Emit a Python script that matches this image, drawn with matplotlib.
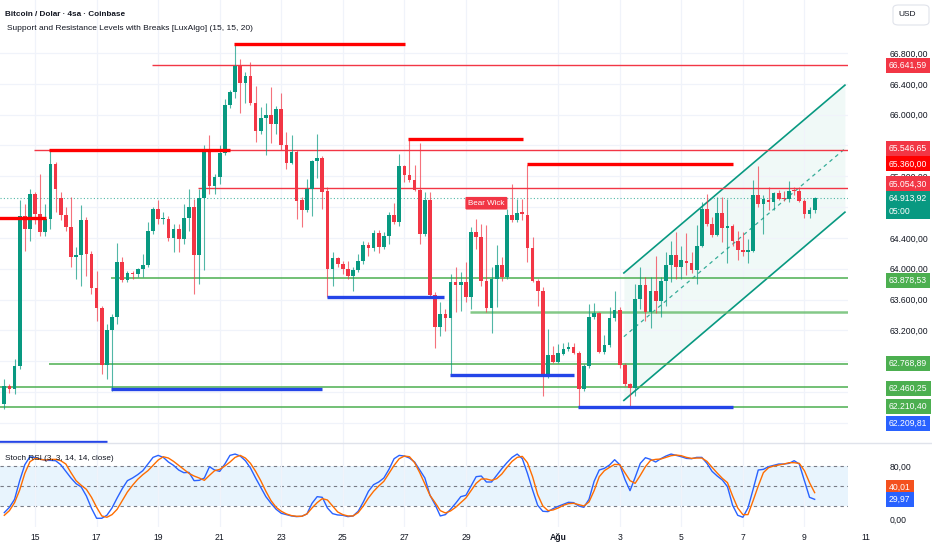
import numpy as np
import matplotlib
matplotlib.use("Agg")
import matplotlib.pyplot as plt
from matplotlib.patches import FancyBboxPatch
from matplotlib.transforms import blended_transform_factory
from matplotlib.ticker import FuncFormatter

plt.rcParams['font.family'] = ['Liberation Sans', 'DejaVu Sans']

# 4h candles, index 0 = 14 Jul 00:00
opens = [62239, 62477, 62434, 62738, 64678, 64518, 64973, 64713, 64473, 64648,
         65355, 64916, 64691, 64538, 64148, 64179, 64635, 64192, 63744, 63484,
         62747, 63206, 63376, 64092, 63854, 63945, 63926, 63992, 64053, 64486,
         64778, 64643, 64648, 64404, 64518, 64387, 64661, 64799, 64183, 64921,
         65528, 65072, 65189, 65502, 66119, 66296, 66631, 66413, 66500, 66145,
         65784, 65950, 65993, 65876, 66067, 65611, 65377, 65511, 64886, 64756,
         65033, 65394, 65442, 65003, 63997, 64140, 64062, 63997, 63909, 63988,
         64096, 64309, 64270, 64469, 64287, 64421, 64691, 64613, 65329, 65211,
         65146, 65016, 64452, 64895, 63662, 63245, 63411, 63359, 63831, 63792,
         63822, 63627, 64473, 64408, 63845, 63489, 63866, 64053, 63887, 64691,
         64635, 64734, 64700, 64270, 63845, 63705, 62598, 62881, 62794, 62898,
         62955, 62985, 62911, 62442, 62738, 63367, 63419, 62924, 63011, 63359,
         63467, 62747, 62500, 62447, 63606, 63792, 63432, 63705, 63584, 63835,
         64049, 64183, 64018, 64105, 64075, 63988, 64300, 64769, 64583, 64443,
         64726, 64531, 64551, 64356, 64244, 64213, 64235, 64960, 64843, 64895,
         64864, 64981, 64916, 64899, 65025, 65007, 64877, 64713, 64756]
highs = [62565, 62500, 62825, 64886, 64843, 65038, 64994, 65225, 64843, 65537,
         65385, 64994, 64799, 64929, 64278, 64821, 64669, 64235, 63975, 63519,
         63281, 63411, 64330, 64148, 63975, 63975, 64010, 64192, 64613, 64799,
         64895, 64734, 64678, 64583, 64583, 64834, 65038, 64908, 65038, 65602,
         65741, 65234, 65602, 66197, 66318, 66917, 66718, 66556, 66687, 66370,
         66101, 66145, 66353, 66110, 66275, 65775, 65741, 65537, 64929, 65159,
         65407, 65754, 65459, 65059, 64213, 64148, 64105, 64105, 64018, 64192,
         64365, 64343, 64505, 64505, 64473, 64734, 64851, 65494, 65342, 65689,
         65342, 65632, 64994, 64994, 63692, 63562, 63476, 63932, 64018, 63952,
         64083, 64538, 64648, 64583, 64574, 64027, 64313, 64148, 64778, 65103,
         64908, 64908, 65342, 64408, 63866, 63757, 63216, 62998, 63020, 63041,
         63054, 63041, 62933, 62760, 63541, 63549, 63432, 63141, 63497, 63705,
         63497, 62781, 62520, 63801, 64018, 63896, 63887, 64170, 63896, 64213,
         64356, 64473, 64300, 64465, 64213, 64574, 64864, 64973, 64669, 64929,
         64929, 64908, 64583, 64495, 64473, 64387, 65146, 65329, 64960, 65059,
         64994, 65016, 65007, 65137, 65059, 65059, 64908, 64799, 64929]
lows = [62174, 62390, 62369, 62695, 64235, 64365, 64583, 64430, 64430, 64518,
        64734, 64626, 64495, 64018, 63866, 63779, 63909, 63671, 63324, 62630,
        62565, 62412, 63281, 63822, 63822, 63866, 63887, 63887, 64018, 64452,
        64583, 64583, 64365, 64213, 64213, 64322, 64495, 63671, 63801, 63984,
        64973, 64973, 65103, 65472, 66080, 66210, 66015, 66145, 66123, 65645,
        65754, 65472, 65632, 65745, 65537, 65299, 65364, 64648, 64538, 64734,
        64682, 65176, 64778, 63627, 63779, 64018, 63932, 63866, 63714, 63952,
        64062, 64170, 64235, 64200, 64257, 64322, 64583, 64560, 65124, 65124,
        65003, 64322, 64430, 63627, 62976, 63128, 63193, 62617, 63432, 63454,
        63562, 63476, 64257, 63779, 63432, 63171, 63497, 63845, 63866, 64603,
        64603, 64635, 64083, 63822, 63519, 62347, 62585, 62781, 62781, 62881,
        62933, 62898, 62195, 62412, 62716, 63346, 62911, 62898, 62985, 63324,
        62708, 62477, 62195, 62347, 63476, 63324, 63236, 63419, 63367, 63519,
        63822, 63866, 63866, 63922, 63940, 63801, 64278, 64560, 64408, 64430,
        64343, 64070, 64300, 64114, 64170, 64075, 64213, 64799, 64452, 64756,
        64765, 64886, 64877, 64864, 64951, 64864, 64661, 64661, 64721]
closes = [62477, 62434, 62738, 64678, 64518, 64973, 64713, 64473, 64648, 65355,
          65038, 64691, 64538, 64148, 64179, 64635, 64192, 63744, 63484, 62747,
          63206, 63376, 64092, 63854, 63945, 63926, 63992, 64053, 64486, 64778,
          64648, 64656, 64404, 64518, 64387, 64661, 64799, 64183, 64921, 65528,
          65072, 65189, 65502, 66119, 66296, 66631, 66413, 66500, 66145, 65784,
          65950, 65993, 65876, 66067, 65611, 65377, 65511, 64877, 64756, 65033,
          65394, 65437, 64994, 63997, 64140, 64062, 63997, 63909, 63988, 64096,
          64309, 64270, 64469, 64287, 64421, 64691, 64613, 65329, 65211, 65146,
          65016, 64452, 64895, 63662, 63245, 63411, 63359, 63831, 63792, 63822,
          63627, 64473, 64408, 63835, 63489, 63866, 64053, 63887, 64691, 64635,
          64721, 64704, 64270, 63835, 63705, 62598, 62881, 62794, 62911, 62955,
          62985, 62911, 62442, 62738, 63367, 63419, 62924, 63011, 63359, 63467,
          62747, 62500, 62447, 63606, 63792, 63432, 63705, 63584, 63835, 64049,
          64183, 64018, 64114, 64075, 63988, 64300, 64778, 64583, 64443, 64726,
          64531, 64551, 64356, 64244, 64213, 64244, 64960, 64843, 64899, 64864,
          64981, 64908, 64899, 65007, 65007, 64877, 64713, 64756, 64913.92]

stoch_k = [10, 18, 30, 58, 82, 94, 92.5, 90.5, 88.5, 88.5,
           88, 82, 72, 62, 53.5, 48.5, 35, 16.5, 1.5, 1.5,
           6, 17, 32, 46, 58, 62, 67, 73, 83, 93,
           96, 93, 86, 81, 74, 70, 70.5, 58, 58.5, 62,
           79, 74, 72, 83, 96, 98, 95, 88, 77, 62,
           48, 34, 24, 15, 9, 7, 5, 4, 4.5, 8,
           24, 34, 33, 17, 8.5, 6.5, 6, 4, 5, 12,
           26, 42, 52, 56, 62, 75, 91, 96, 95, 92,
           86, 74, 62, 36, 22, 5, 7, 15, 24, 34,
           36, 50, 64, 65, 56, 56, 66, 76, 85, 93,
           98, 91, 69, 44, 21, 12, 11.5, 16, 19.5, 22.5,
           25.5, 25, 20, 18, 30, 57, 74, 76.5, 81.5, 89.5,
           82, 60, 43, 63, 84, 92.5, 90, 86, 91, 95,
           98, 96, 94, 91.5, 91, 93, 93, 84, 72, 65,
           59, 49, 21, 6, 3, 17, 45, 74, 75, 79,
           81, 83, 83, 84, 88, 83, 58, 33, 29.97]
stoch_d = [6, 13, 25, 44, 69, 86.5, 91.5, 90, 89, 90,
           90, 88, 83, 70, 58, 51, 45, 33, 18, 5,
           3, 7, 15, 28, 41, 51, 60, 67, 73, 81,
           89, 94, 92, 87, 81, 75, 69, 65, 62, 58.5,
           66, 73, 75, 80, 86, 93, 96, 92, 84, 72,
           58, 42, 28, 18, 12, 8, 5.5, 4.5, 4.5, 8,
           17, 25, 31, 29, 20, 11, 7, 5, 5, 10,
           20, 32, 42, 50, 57, 69, 81, 91, 95, 94,
           85, 70, 53, 36, 25, 13, 9.5, 12.5, 18, 25,
           32, 43, 54, 60.5, 60.5, 58.5, 61, 68, 78, 87,
           93, 94.5, 85, 64, 37, 20, 13, 14, 17, 21,
           23.5, 24, 22, 20, 26, 43, 64, 73, 78, 82.5,
           82, 70, 58, 54, 66, 79, 88.5, 90, 90.5, 93,
           95.5, 96.5, 95.5, 93, 91.5, 92, 92, 87, 78, 69.5,
           61.5, 55, 35, 17, 7, 7, 28, 50, 70, 77.5,
           80, 81.5, 83, 85, 85, 84, 73, 55, 40.01]

# user horizontal levels (price, first candle index)
level_prices = [66641.59, 65546.65, 65054.30, 63878.53, 62768.89, 62460.25, 62210.40, 63432]
level_start = [28.8, 5.8, 37.8, 20.8, 8.7, -1, -1, 90.8]
level_kind = ['r', 'r', 'r', 'g', 'g', 'g', 'g', 'g2']

# LuxAlgo pivot segments
res_price = [64660, 65546.65, 66917, 65689, 65360.00]
res_start = [-1, 8.7, 44.8, 78.7, 101.9]
res_end = [8.1, 44.0, 78.1, 101.1, 142.0]
sup_price = [61748, 62440, 63627, 62617, 62209.81]
sup_start = [-1, 20.8, 62.9, 86.9, 111.8]
sup_end = [20.0, 62.0, 85.7, 111.0, 142.0]

# ascending channel
chan_x = [120.8, 163.9]
chan_upper = [63945, 66383]
chan_lower = [62291, 64734]

time_ticks = [6, 18, 30, 42, 54, 66, 78, 90, 108, 120, 132, 144, 156, 168]
time_labels = ['15', '17', '19', '21', '23', '25', '27', '29', 'Ağu', '3', '5', '7', '9', '11']
# price scale values hidden behind the coloured labels
hidden_ticks = [64800, 62800, 62400, 62000]

GREEN = '#089981'
RED = '#f23645'
TEXT = '#131722'
GRID = '#f0f3fa'
FS = 6.2


def tr(v):
    s = f"{v:,.2f}"
    return s.replace(',', 'X').replace('.', ',').replace('X', '.')


fig = plt.figure(figsize=(9.32, 5.5), dpi=100)
ax = fig.add_axes([0, 107 / 550, 848 / 932, 443 / 550])
ax2 = fig.add_axes([0, 23 / 550, 848 / 932, 84 / 550])

idx = np.arange(len(opens))
o = np.array(opens, float)
h = np.array(highs, float)
l = np.array(lows, float)
c = np.array(closes, float)
up = c >= o
col = np.where(up, GREEN, RED)

for a in (ax, ax2):
    a.set_xlim(-0.84, 164.5)
    for s in a.spines.values():
        s.set_visible(False)
    a.set_xticks(time_ticks[:-1])
    a.set_xticklabels([])
    a.tick_params(axis='x', length=0)
    a.grid(axis='x', color=GRID, lw=0.9, zorder=0)

ax.set_ylim(61738, 67488)
ax.set_yticks(np.arange(62000, 66801, 400))
ax.grid(axis='y', color=GRID, lw=0.9, zorder=0)
ax.yaxis.set_major_formatter(FuncFormatter(
    lambda v, p: '' if int(round(v)) in hidden_ticks else tr(v)))
ax2.yaxis.set_major_formatter(FuncFormatter(lambda v, p: tr(v)))
for a in (ax, ax2):
    a.tick_params(axis='y', left=False, labelleft=False, right=False, labelright=True,
                  length=0, pad=30, labelsize=FS, labelcolor=TEXT)

# channel
ax.fill_between(chan_x, chan_lower, chan_upper, color=GREEN, alpha=0.06, lw=0, zorder=1)
ax.plot(chan_x, chan_upper, color=GREEN, lw=1.2, zorder=2)
ax.plot(chan_x, chan_lower, color=GREEN, lw=1.2, zorder=2)
ax.plot(chan_x, [(a + b) / 2 for a, b in zip(chan_upper, chan_lower)], color=GREEN,
        lw=0.9, ls=(0, (3, 3)), alpha=0.8, zorder=2)

# horizontal levels
for p, s, k in zip(level_prices, level_start, level_kind):
    if k == 'r':
        ax.hlines(p, s, 165, color=RED, lw=1.0, zorder=2)
    elif k == 'g':
        ax.hlines(p, s, 165, color='#4caf50', lw=1.1, zorder=2)
    else:
        ax.hlines(p, s, 165, color='#66bb6a', lw=1.8, alpha=0.8, zorder=2)

ax.axhline(closes[-1], color=GREEN, lw=0.8, ls=(0, (1, 2)), alpha=0.7, zorder=2)

# candles
ax.vlines(idx, l, h, color=col, lw=0.8, alpha=0.7, zorder=3)
ax.bar(idx, np.maximum(np.abs(c - o), 6), bottom=np.minimum(o, c), width=0.72,
       color=col, lw=0, zorder=4)

for p, s, e in zip(res_price, res_start, res_end):
    ax.hlines(p, s, e, color='#ff0000', lw=2.4, zorder=5)
for p, s, e in zip(sup_price, sup_start, sup_end):
    ax.hlines(p, s, e, color='#2445e8', lw=2.4, zorder=5)

ax.annotate('Bear Wick', xy=(94, 64620), xytext=(94, 64850), ha='center', va='center',
            fontsize=5.8, color='white', zorder=6,
            bbox=dict(boxstyle='round,pad=0.35,rounding_size=0.15', fc=RED, ec='none'))

# stoch rsi
ax2.set_ylim(-11.6, 114.6)
ax2.set_yticks([0, 80])
ax2.axhspan(20, 80, color='#2196f3', alpha=0.1, lw=0, zorder=0)
for v in (80, 50, 20):
    ax2.axhline(v, color='#787b86', lw=0.8, ls=(0, (3, 3)), zorder=1)
ax2.plot(idx, stoch_k, color='#2962ff', lw=1.0, zorder=3)
ax2.plot(idx, stoch_d, color='#ff6d00', lw=1.0, zorder=3)

# time labels
ttr = blended_transform_factory(ax2.transData, fig.transFigure)
for t, lab in zip(time_ticks, time_labels):
    ax2.text(t, 13 / 550, lab, transform=ttr, ha='center', va='center', fontsize=FS,
             color=TEXT, fontweight='bold' if lab == 'Ağu' else 'normal', clip_on=False)

# pane separator
fig.add_artist(plt.Line2D([0, 1], [107 / 550, 107 / 550], color='#e0e3eb', lw=1))


def fy(a, v):
    return fig.transFigure.inverted().transform(a.transData.transform((0, v)))[1]


def label(a, v, text, color, shift=0, txtcol='white'):
    y = fy(a, v) - shift / 550
    fig.text(889 / 932, y, text, ha='left', va='center', fontsize=FS, color=txtcol, zorder=5,
             bbox=dict(boxstyle='square,pad=0.35', fc=color, ec='none'))


label(ax, level_prices[0], tr(level_prices[0]), RED)
label(ax, level_prices[1], tr(level_prices[1]), RED, -1.5)
label(ax, res_price[4], tr(res_price[4]), '#ff0000')
label(ax, level_prices[2], tr(level_prices[2]), RED, -3.5)
label(ax, level_prices[3], tr(level_prices[3]), '#4caf50', 2)
label(ax, level_prices[4], tr(level_prices[4]), '#4caf50')
label(ax, level_prices[5], tr(level_prices[5]), '#4caf50', 1)
label(ax, level_prices[6], tr(level_prices[6]), '#4caf50')
label(ax, sup_price[4], tr(sup_price[4]), '#2962ff', 16.5)
yc = fy(ax, closes[-1])
fig.text(889 / 932, yc - 6.5 / 550, tr(closes[-1]) + '\n05:00', ha='left', va='center',
         fontsize=FS, color='white', linespacing=1.6, zorder=5,
         bbox=dict(boxstyle='square,pad=0.35', fc=GREEN, ec='none'))
label(ax2, stoch_d[-1], tr(stoch_d[-1]), '#f4511e', -5)
label(ax2, stoch_k[-1], tr(stoch_k[-1]), '#2962ff', 0)

# header texts
fig.text(5 / 932, 1 - 14 / 550, 'Bitcoin / Dolar · 4sa · Coinbase', fontsize=5.9,
         fontweight='bold', color=TEXT, va='center')
fig.text(7 / 932, 1 - 28 / 550, 'Support and Resistance Levels with Breaks [LuxAlgo] (15, 15, 20)',
         fontsize=6.0, color=TEXT, va='center')
fig.text(5 / 932, 1 - 459 / 550, 'Stoch RSI (3, 3, 14, 14, close)', fontsize=5.9,
         color=TEXT, va='center', zorder=5)
fig.add_artist(FancyBboxPatch((893 / 932, 1 - 25 / 550), 36 / 932, 20 / 550,
                              boxstyle='round,pad=0,rounding_size=0.006',
                              transform=fig.transFigure, fc='white', ec='#e0e3eb', lw=0.8))
fig.text(898 / 932, 1 - 15 / 550, 'USD', fontsize=6, color=TEXT, va='center')

fig.savefig('out.png', dpi=100)
